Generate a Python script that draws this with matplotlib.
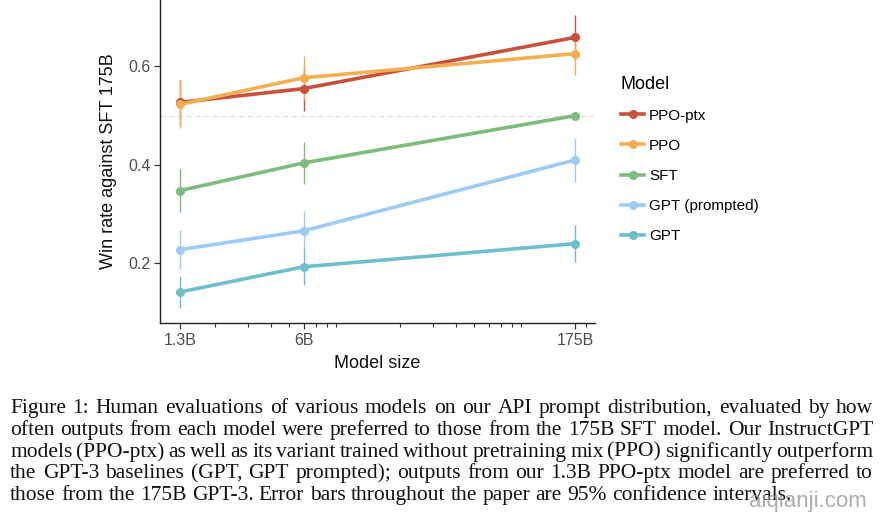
import matplotlib
matplotlib.use("Agg")
import numpy as np
from matplotlib import pyplot as plt
from matplotlib.ticker import FixedLocator, LogLocator, NullFormatter

sizes = [1.3, 6, 175]
size_labels = ["1.3B", "6B", "175B"]

models = ["PPO-ptx", "PPO", "SFT", "GPT (prompted)", "GPT"]
colors = ["#C9503A", "#F2AE4F", "#7DBB7F", "#9CCBF6", "#6CBFCB"]

win_ppo_ptx = [0.527, 0.555, 0.659]
win_ppo = [0.523, 0.577, 0.626]
win_sft = [0.348, 0.404, 0.500]
win_gpt_prompted = [0.228, 0.266, 0.410]
win_gpt = [0.142, 0.193, 0.240]

err_ppo_ptx = [0.046, 0.045, 0.046]
err_ppo = [0.048, 0.045, 0.044]
err_sft = [0.044, 0.043, 0.0]
err_gpt_prompted = [0.040, 0.040, 0.045]
err_gpt = [0.032, 0.037, 0.038]

series = [win_ppo_ptx, win_ppo, win_sft, win_gpt_prompted, win_gpt]
errors = [err_ppo_ptx, err_ppo, err_sft, err_gpt_prompted, err_gpt]

caption = [
    "Figure 1: Human evaluations of various models on our API prompt distribution, evaluated by how",
    "often outputs from each model were preferred to those from the 175B SFT model. Our InstructGPT",
    "models (PPO-ptx) as well as its variant trained without pretraining mix (PPO) significantly outperform",
    "the GPT-3 baselines (GPT, GPT prompted); outputs from our 1.3B PPO-ptx model are preferred to",
    "those from the 175B GPT-3. Error bars throughout the paper are 95% confidence intervals.",
]

plt.rcParams["font.family"] = ["Liberation Sans", "DejaVu Sans"]

fig = plt.figure(figsize=(8.8, 5.2), dpi=100)
ax = fig.add_axes([0.182, 0.379, 0.494, 0.621])

ax.axhline(0.5, color="#e0e0e0", lw=0.9, ls=(0, (4, 3)), zorder=1)

for name, c, y, e in zip(models, colors, series, errors):
    ax.errorbar(sizes, y, yerr=e, fmt="none", ecolor=c, elinewidth=1.0, capsize=0, zorder=2)
    ax.plot(sizes, y, color=c, lw=2.6, marker="o", ms=5.5, label=name, zorder=3)

ax.set_xscale("log")
ax.set_xlim(1.01, 224)
ax.set_ylim(0.079, 0.735)
ax.xaxis.set_major_locator(FixedLocator(sizes))
ax.set_xticklabels(size_labels)
ax.xaxis.set_minor_locator(LogLocator(base=10, subs=np.arange(2, 10)))
ax.xaxis.set_minor_formatter(NullFormatter())
ax.set_yticks([0.2, 0.4, 0.6])
ax.set_yticklabels(["0.2", "0.4", "0.6"])

for s in ["top", "right"]:
    ax.spines[s].set_visible(False)
for s in ["left", "bottom"]:
    ax.spines[s].set_color("#222222")
    ax.spines[s].set_linewidth(1.0)
ax.tick_params(axis="both", which="major", length=4, width=0.9, color="#333333",
               labelcolor="#4d4d4d", labelsize=11.5, pad=3)
ax.tick_params(axis="x", which="minor", length=3, width=0.8, color="#333333")

ax.set_xlabel("Model size", fontsize=13, color="#111111", labelpad=5)
ax.set_ylabel("Win rate against SFT 175B", fontsize=13, color="#111111", labelpad=8)

leg = ax.legend(title="Model", loc="upper left", bbox_to_anchor=(1.028, 0.808),
                frameon=False, fontsize=11, title_fontsize=13, handlelength=1.55,
                labelspacing=1.05, handletextpad=0.3, alignment="left")

# justified caption in a serif face
fig.canvas.draw()
renderer = fig.canvas.get_renderer()
left_px, right_px = 10, 873
y0, dy = 413, 21.8
fs = 15.5
for i, line in enumerate(caption):
    ybase = 1 - (y0 + i * dy) / 520
    words = line.split(" ")
    objs = [fig.text(0, ybase, w, fontsize=fs, family="Liberation Serif",
                     va="baseline", ha="left", color="#111111") for w in words]
    widths = [o.get_window_extent(renderer).width for o in objs]
    if i < len(caption) - 1:
        gap = (right_px - left_px - sum(widths)) / (len(words) - 1)
    else:
        sp = fig.text(0, 0, "a b", fontsize=fs, family="Liberation Serif")
        sp2 = fig.text(0, 0, "ab", fontsize=fs, family="Liberation Serif")
        gap = sp.get_window_extent(renderer).width - sp2.get_window_extent(renderer).width
        sp.remove()
        sp2.remove()
    x = left_px
    for o, w in zip(objs, widths):
        o.set_x(x / 880)
        x += w + gap

# watermark sits over the caption's last line, as in the source image
fig.text(808 / 880, 1 - 501 / 520, "aiqianji.com", fontsize=16, color="#999999",
         alpha=0.8, ha="center", va="center")

fig.savefig("out.png", dpi=100)
